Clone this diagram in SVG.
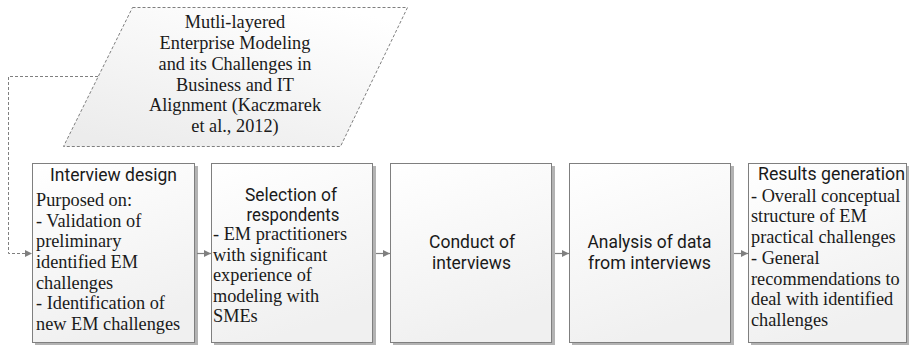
<svg xmlns="http://www.w3.org/2000/svg" width="909" height="345" viewBox="0 0 909 345">
<defs>
<linearGradient id="g" x1="0" y1="0" x2="0.3" y2="1">
<stop offset="0" stop-color="#ffffff"/>
<stop offset="1" stop-color="#f0f0f0"/>
</linearGradient>
<linearGradient id="gp" x1="0.8" y1="0" x2="0.2" y2="1">
<stop offset="0" stop-color="#ffffff"/>
<stop offset="1" stop-color="#ececec"/>
</linearGradient>
<marker id="ah" markerWidth="8" markerHeight="8" refX="7" refY="4" orient="auto" markerUnits="userSpaceOnUse">
<path d="M0,0.5 L7,4 L0,7.5 Z" fill="#7f7f7f"/>
</marker>
<filter id="sh" x="-10%" y="-10%" width="130%" height="130%">
<feOffset dx="3" dy="3" in="SourceAlpha" result="o"/>
<feGaussianBlur in="o" stdDeviation="0.6" result="b"/>
<feColorMatrix in="b" type="matrix" values="0 0 0 0 0  0 0 0 0 0  0 0 0 0 0  0 0 0 0.3 0" result="c"/>
<feMerge><feMergeNode in="c"/><feMergeNode in="SourceGraphic"/></feMerge>
</filter>
</defs>
<style>
.box{fill:url(#g);stroke:#7f7f7f;stroke-width:1;filter:url(#sh)}
.t{font-family:Roboto,"Liberation Sans",sans-serif;font-size:17.5px;fill:#1a1a1a;text-anchor:middle}
.s{font-family:"Liberation Serif",serif;font-size:18.3px;fill:#1a1a1a}
.c{font-family:"Liberation Serif",serif;font-size:18.3px;fill:#1a1a1a;text-anchor:middle}
.ln{stroke:#7f7f7f;stroke-width:1.2;fill:none}
.dl{stroke:#7f7f7f;stroke-width:1;fill:none;stroke-dasharray:3,2}
</style>
<g id="source">
<polygon points="132.5,7.5 407.5,7.5 340.5,146.5 63.5,146.5" fill="url(#gp)" stroke="#7f7f7f" stroke-dasharray="3,2"/>
<text class="c" x="235" y="28">Mutli-layered</text>
<text class="c" x="235" y="49">Enterprise Modeling</text>
<text class="c" x="235" y="70">and its Challenges in</text>
<text class="c" x="235" y="91">Business and IT</text>
<text class="c" x="235" y="111">Alignment (Kaczmarek</text>
<text class="c" x="235" y="132">et al., 2012)</text>
</g>
<g id="interview-design">
<rect class="box" x="32.5" y="163.5" width="162" height="179"/>
<text class="t" x="113.5" y="180.5" textLength="127" lengthAdjust="spacingAndGlyphs">Interview design</text>
<text class="s" x="36" y="206">Purposed on:</text>
<text class="s" x="36" y="226.5">- Validation of</text>
<text class="s" x="36" y="247">preliminary</text>
<text class="s" x="36" y="268">identified EM</text>
<text class="s" x="36" y="288.5">challenges</text>
<text class="s" x="36" y="309">- Identification of</text>
<text class="s" x="36" y="330">new EM challenges</text>
</g>
<g id="selection">
<rect class="box" x="211.5" y="163.5" width="161" height="179"/>
<text class="t" x="291" y="200.5" textLength="92" lengthAdjust="spacingAndGlyphs">Selection of</text>
<text class="t" x="293" y="220.5" textLength="93" lengthAdjust="spacingAndGlyphs">respondents</text>
<text class="s" x="213" y="240">- EM practitioners</text>
<text class="s" x="213" y="260.5">with significant</text>
<text class="s" x="213" y="281">experience of</text>
<text class="s" x="213" y="301.5">modeling with</text>
<text class="s" x="213" y="322">SMEs</text>
</g>
<g id="conduct">
<rect class="box" x="390.5" y="163.5" width="161" height="179"/>
<text class="t" x="472" y="248" textLength="86" lengthAdjust="spacingAndGlyphs">Conduct of</text>
<text class="t" x="471.5" y="269" textLength="79" lengthAdjust="spacingAndGlyphs">interviews</text>
</g>
<g id="analysis">
<rect class="box" x="569.5" y="163.5" width="161" height="179"/>
<text class="t" x="649.5" y="248" textLength="124" lengthAdjust="spacingAndGlyphs">Analysis of data</text>
<text class="t" x="649.5" y="269" textLength="123" lengthAdjust="spacingAndGlyphs">from interviews</text>
</g>
<g id="results">
<rect class="box" x="748.5" y="163.5" width="158" height="179"/>
<text class="t" x="831.5" y="180" textLength="147" lengthAdjust="spacingAndGlyphs">Results generation</text>
<text class="s" x="751" y="201.5">- Overall conceptual</text>
<text class="s" x="751" y="222">structure of EM</text>
<text class="s" x="751" y="243">practical challenges</text>
<text class="s" x="751" y="264">- General</text>
<text class="s" x="751" y="284.5">recommendations to</text>
<text class="s" x="751" y="305">deal with identified</text>
<text class="s" x="751" y="325.5">challenges</text>
</g>
<g id="connectors">
<path class="dl" d="M98,76.5 H8.5 V253.5 H32" marker-end="url(#ah)"/>
<path class="ln" d="M197,253.5 H211" marker-end="url(#ah)"/>
<path class="ln" d="M376,253.5 H390" marker-end="url(#ah)"/>
<path class="ln" d="M555,253.5 H569" marker-end="url(#ah)"/>
<path class="ln" d="M734,253.5 H748" marker-end="url(#ah)"/>
</g>
</svg>
